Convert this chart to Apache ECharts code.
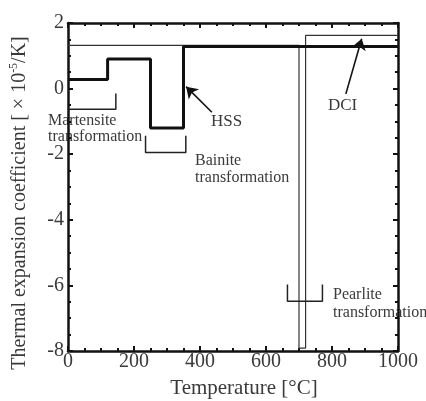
<!DOCTYPE html>
<html>
<head>
<meta charset="utf-8">
<script src="https://cdn.jsdelivr.net/npm/echarts@6/dist/echarts.min.js"></script>
<style>
  html, body { margin: 0; padding: 0; background: #fff; }
  #chart { width: 426px; height: 401px; }
</style>
</head>
<body>
<div id="chart"></div>
<script>
// Step profiles: each value holds from its temperature up to the next one.
const hssTemp = [0, 120, 250, 350, 1000];
const hssCoef = [0.28, 0.9, -1.2, 1.28];
const dciTemp = [0, 700, 720, 1000];
const dciCoef = [1.32, -7.91, 1.62];

// Axis ranges and tick spacing
const xRange = [0, 1000];
const xStep = 200;
const yRange = [-8, 2];
const yStep = 2;

// Transformation-range brackets (temperature, coefficient)
const martensiteBracket = [[0, -0.63], [145, -0.63], [145, -0.15]];
const bainiteBracket = [[235, -1.44], [235, -1.95], [357, -1.95], [357, -1.44]];
const pearliteBracket = [[665, -5.97], [665, -6.48], [771, -6.48], [771, -5.97]];

// Leader arrows from labels to curves (tail, head)
const hssArrow = [[436, -0.72], [358, 0.06]];
const dciArrow = [[842, -0.16], [890, 1.52]];

const FONT = '"Liberation Serif", "DejaVu Serif", serif';
const TEXT = '#3a3a3a';

function stepPoints(temps, vals) {
  const pts = [];
  for (let i = 0; i < vals.length; i++) {
    pts.push([temps[i], vals[i]]);
    pts.push([temps[i + 1], vals[i]]);
  }
  return pts;
}

function axisCommon(showLabels) {
  return {
    axisLine: { show: true, onZero: false, lineStyle: { color: '#111', width: 2.5 } },
    axisTick: { show: true, inside: true, length: 5, lineStyle: { color: '#111', width: 2 } },
    minorTick: { show: true, splitNumber: 4, length: 3, lineStyle: { color: '#111', width: 2 } },
    splitLine: { show: false },
    minorSplitLine: { show: false },
    axisLabel: {
      show: showLabels,
      color: TEXT,
      fontFamily: FONT,
      fontSize: 20,
      formatter: function (v) { return String(v); }
    }
  };
}

const chart = echarts.init(document.getElementById('chart'), null, { renderer: 'canvas' });

const xBottom = Object.assign({ type: 'value', position: 'bottom', min: xRange[0], max: xRange[1], interval: xStep }, axisCommon(true));
xBottom.axisLabel.margin = 1;
const xTop = Object.assign({ type: 'value', position: 'top', min: xRange[0], max: xRange[1], interval: xStep }, axisCommon(false));
const yLeft = Object.assign({ type: 'value', position: 'left', min: yRange[0], max: yRange[1], interval: yStep }, axisCommon(true));
yLeft.axisLabel.margin = 4;
const yRight = Object.assign({ type: 'value', position: 'right', min: yRange[0], max: yRange[1], interval: yStep }, axisCommon(false));

const bracketStyle = { color: '#222', width: 1.5 };

chart.setOption({
  animation: false,
  backgroundColor: '#fff',
  grid: { left: 68, right: 28, top: 23, bottom: 50, containLabel: false },
  xAxis: [xBottom, xTop],
  yAxis: [yLeft, yRight],
  series: [
    {
      name: 'DCI', type: 'line', data: stepPoints(dciTemp, dciCoef),
      showSymbol: false, lineStyle: { color: '#333', width: 1.2 }, z: 3
    },
    {
      name: 'HSS', type: 'line', data: stepPoints(hssTemp, hssCoef),
      showSymbol: false, lineStyle: { color: '#111', width: 3 }, z: 4
    },
    { type: 'line', data: martensiteBracket, showSymbol: false, lineStyle: bracketStyle },
    { type: 'line', data: bainiteBracket, showSymbol: false, lineStyle: bracketStyle },
    { type: 'line', data: pearliteBracket, showSymbol: false, lineStyle: bracketStyle },
    {
      type: 'lines', coordinateSystem: 'cartesian2d',
      symbol: ['none', 'arrow'], symbolSize: [7, 11],
      lineStyle: { color: '#111', width: 1.6, opacity: 1 },
      data: [{ coords: hssArrow }, { coords: dciArrow }]
    }
  ]
});

function txt(x, y, text, size, align) {
  return {
    type: 'text', x: x, y: y,
    style: {
      text: text, fill: TEXT, font: size + 'px ' + FONT,
      align: align || 'left', verticalAlign: 'middle'
    }
  };
}

chart.setOption({
  graphic: [
    txt(48, 121, 'Martensite', 16),
    txt(48, 137, 'transformation', 16),
    txt(195, 161, 'Bainite', 16),
    txt(195, 178, 'transformation', 16),
    txt(211, 122, 'HSS', 17),
    txt(328, 106, 'DCI', 17),
    txt(333, 295, 'Pearlite', 16),
    txt(333, 313, 'transformation', 16),
    txt(244, 388, 'Temperature [°C]', 21, 'center'),
    {
      type: 'text', x: 19, y: 203, rotation: Math.PI / 2,
      style: {
        text: '{a|Thermal expansion coefficient [ × 10}{s|-5}{a|/K]}',
        align: 'center', verticalAlign: 'middle',
        rich: {
          a: { fill: TEXT, fontFamily: FONT, fontSize: 20, lineHeight: 22, verticalAlign: 'bottom' },
          s: { fill: TEXT, fontFamily: FONT, fontSize: 12, lineHeight: 22, verticalAlign: 'top' }
        }
      }
    }
  ]
});
</script>
</body>
</html>
